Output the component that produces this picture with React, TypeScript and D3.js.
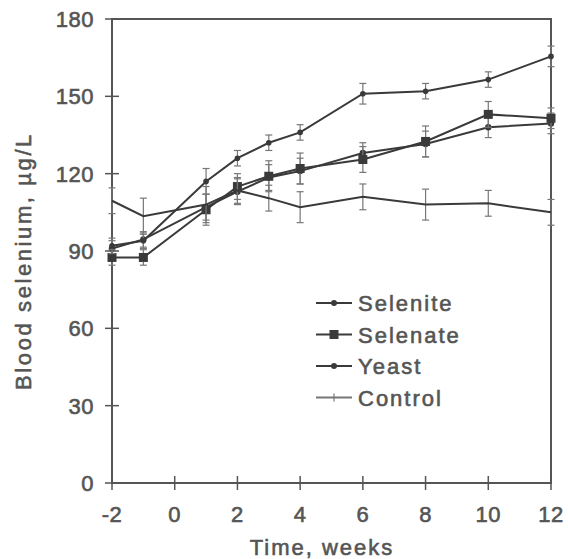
import { useEffect, useRef } from 'react';
import * as d3 from 'd3';

const weeks = [-2, -1, 1, 2, 3, 4, 6, 8, 10, 12];
const selenite = [91, 94.5, 107, 113, 118.5, 121, 128, 131.5, 138, 139.5];
const seleniteErr = [3, 3, 5, 5, 5, 5, 4, 5, 4, 4];
const selenate = [87.5, 87.5, 106, 115, 119, 122, 125.5, 132.5, 143, 141.5];
const selenateErr = [3, 3, 6, 5, 6, 6, 5, 6, 5, 4];
const yeast = [92, 94, 117, 126, 132, 136, 151, 152, 156.5, 165.5];
const yeastErr = [3, 3, 5, 3, 3, 3, 4, 3, 3, 4];
const control = [109.5, 103.5, 108, 113.5, 110.5, 107, 111, 108, 108.5, 105];
const controlErr = [5, 7, 7, 5, 5, 6, 5, 6, 5, 5];
const xTicks = [-2, 0, 2, 4, 6, 8, 10, 12];
const yTicks = [0, 30, 60, 90, 120, 150, 180];
const legendNames = ['Selenite', 'Selenate', 'Yeast', 'Control'];

const W = 568;
const H = 559;
const margin = { top: 19, right: 17, bottom: 76, left: 112 };
const ink = '#3a3a3a';
const grey = '#555';
const font = "'Liberation Sans', Arial, sans-serif";

// scanned text looks heavy, so thicken it a bit
const textStyle = (sel: d3.Selection<SVGTextElement, unknown, null, undefined>, spacing: number) =>
  sel.style('font-family', font).style('font-size', '22px')
    .style('letter-spacing', `${spacing}px`)
    .style('fill', grey).style('stroke', grey).style('stroke-width', '0.6px');

const App = () => {
  const svgRef = useRef<SVGSVGElement>(null);

  useEffect(() => {
    if (!svgRef.current) return;
    const svg = d3.select(svgRef.current);
    svg.selectAll('*').remove();

    const x = d3.scaleLinear().domain([-2, 12]).range([margin.left, W - margin.right]);
    const y = d3.scaleLinear().domain([0, 180]).range([H - margin.bottom, margin.top]);

    const series = [
      { name: 'Selenite', values: selenite, err: seleniteErr, marker: 'dot' },
      { name: 'Selenate', values: selenate, err: selenateErr, marker: 'square' },
      { name: 'Yeast', values: yeast, err: yeastErr, marker: 'small' },
      { name: 'Control', values: control, err: controlErr, marker: 'none' },
    ];

    // frame
    svg.append('rect')
      .attr('x', x(-2)).attr('y', y(180))
      .attr('width', x(12) - x(-2)).attr('height', y(0) - y(180))
      .attr('fill', 'none').attr('stroke', grey).attr('stroke-width', 2);

    // y ticks
    const yAxis = svg.append('g');
    yTicks.forEach(t => {
      yAxis.append('line')
        .attr('x1', x(-2) - 7).attr('x2', x(-2) + 7)
        .attr('y1', y(t)).attr('y2', y(t))
        .attr('stroke', grey).attr('stroke-width', 1.5);
      textStyle(yAxis.append('text'), 0.5)
        .attr('x', x(-2) - 18).attr('y', y(t) + 8)
        .attr('text-anchor', 'end')
        .text(t);
    });

    // x ticks
    const xAxis = svg.append('g');
    xTicks.forEach(t => {
      xAxis.append('line')
        .attr('x1', x(t)).attr('x2', x(t))
        .attr('y1', y(0) - 7).attr('y2', y(0) + 7)
        .attr('stroke', grey).attr('stroke-width', 1.5);
      textStyle(xAxis.append('text'), 0.5)
        .attr('x', x(t)).attr('y', y(0) + 39)
        .attr('text-anchor', 'middle')
        .text(t);
    });

    textStyle(svg.append('text'), 2)
      .attr('x', 322).attr('y', H - 4)
      .attr('text-anchor', 'middle')
      .text('Time, weeks');

    textStyle(svg.append('text'), 2.6)
      .attr('transform', `translate(31,261) rotate(-90)`)
      .attr('text-anchor', 'middle')
      .text('Blood selenium, µg/L');

    const line = d3.line<number>()
      .x((_, i) => x(weeks[i]))
      .y(d => y(d));

    series.forEach(s => {
      const g = svg.append('g');
      // error bars
      s.values.forEach((v, i) => {
        const cx = x(weeks[i]);
        const e = s.err[i];
        g.append('line')
          .attr('x1', cx).attr('x2', cx)
          .attr('y1', y(v - e)).attr('y2', y(v + e))
          .attr('stroke', '#777').attr('stroke-width', 1.2);
        [v - e, v + e].forEach(b => {
          g.append('line')
            .attr('x1', cx - 3.5).attr('x2', cx + 3.5)
            .attr('y1', y(b)).attr('y2', y(b))
            .attr('stroke', '#777').attr('stroke-width', 1.2);
        });
      });
      g.append('path')
        .datum(s.values)
        .attr('d', line)
        .attr('fill', 'none')
        .attr('stroke', ink)
        .attr('stroke-width', 2);
      s.values.forEach((v, i) => {
        const cx = x(weeks[i]);
        if (s.marker === 'square') {
          g.append('rect')
            .attr('x', cx - 4.5).attr('y', y(v) - 4.5)
            .attr('width', 9).attr('height', 9)
            .attr('fill', ink);
        } else if (s.marker === 'dot') {
          g.append('circle').attr('cx', cx).attr('cy', y(v)).attr('r', 3.2).attr('fill', ink);
        } else if (s.marker === 'small') {
          g.append('circle').attr('cx', cx).attr('cy', y(v)).attr('r', 2.8).attr('fill', ink);
        }
      });
    });

    // legend
    const legend = svg.append('g').attr('transform', 'translate(316,303)');
    legendNames.forEach((name, i) => {
      const s = series[i];
      const ly = i * 31.5;
      legend.append('line')
        .attr('x1', 0).attr('x2', 36)
        .attr('y1', ly).attr('y2', ly)
        .attr('stroke', s.marker === 'none' ? '#777' : ink).attr('stroke-width', 2);
      if (s.marker === 'square') {
        legend.append('rect').attr('x', 18 - 4.5).attr('y', ly - 4.5)
          .attr('width', 9).attr('height', 9).attr('fill', ink);
      } else if (s.marker === 'dot' || s.marker === 'small') {
        legend.append('circle').attr('cx', 18).attr('cy', ly).attr('r', 3).attr('fill', ink);
      } else {
        legend.append('line').attr('x1', 18).attr('x2', 18)
          .attr('y1', ly - 4).attr('y2', ly + 4)
          .attr('stroke', '#777').attr('stroke-width', 1.2);
      }
      textStyle(legend.append('text'), 2)
        .attr('x', 42).attr('y', ly + 8)
        .text(name);
    });
  }, []);

  return (
    <svg
      ref={svgRef}
      width={W}
      height={H}
      style={{ position: 'absolute', left: 0, top: 0, background: '#fff' }}
    />
  );
};

export default App;
